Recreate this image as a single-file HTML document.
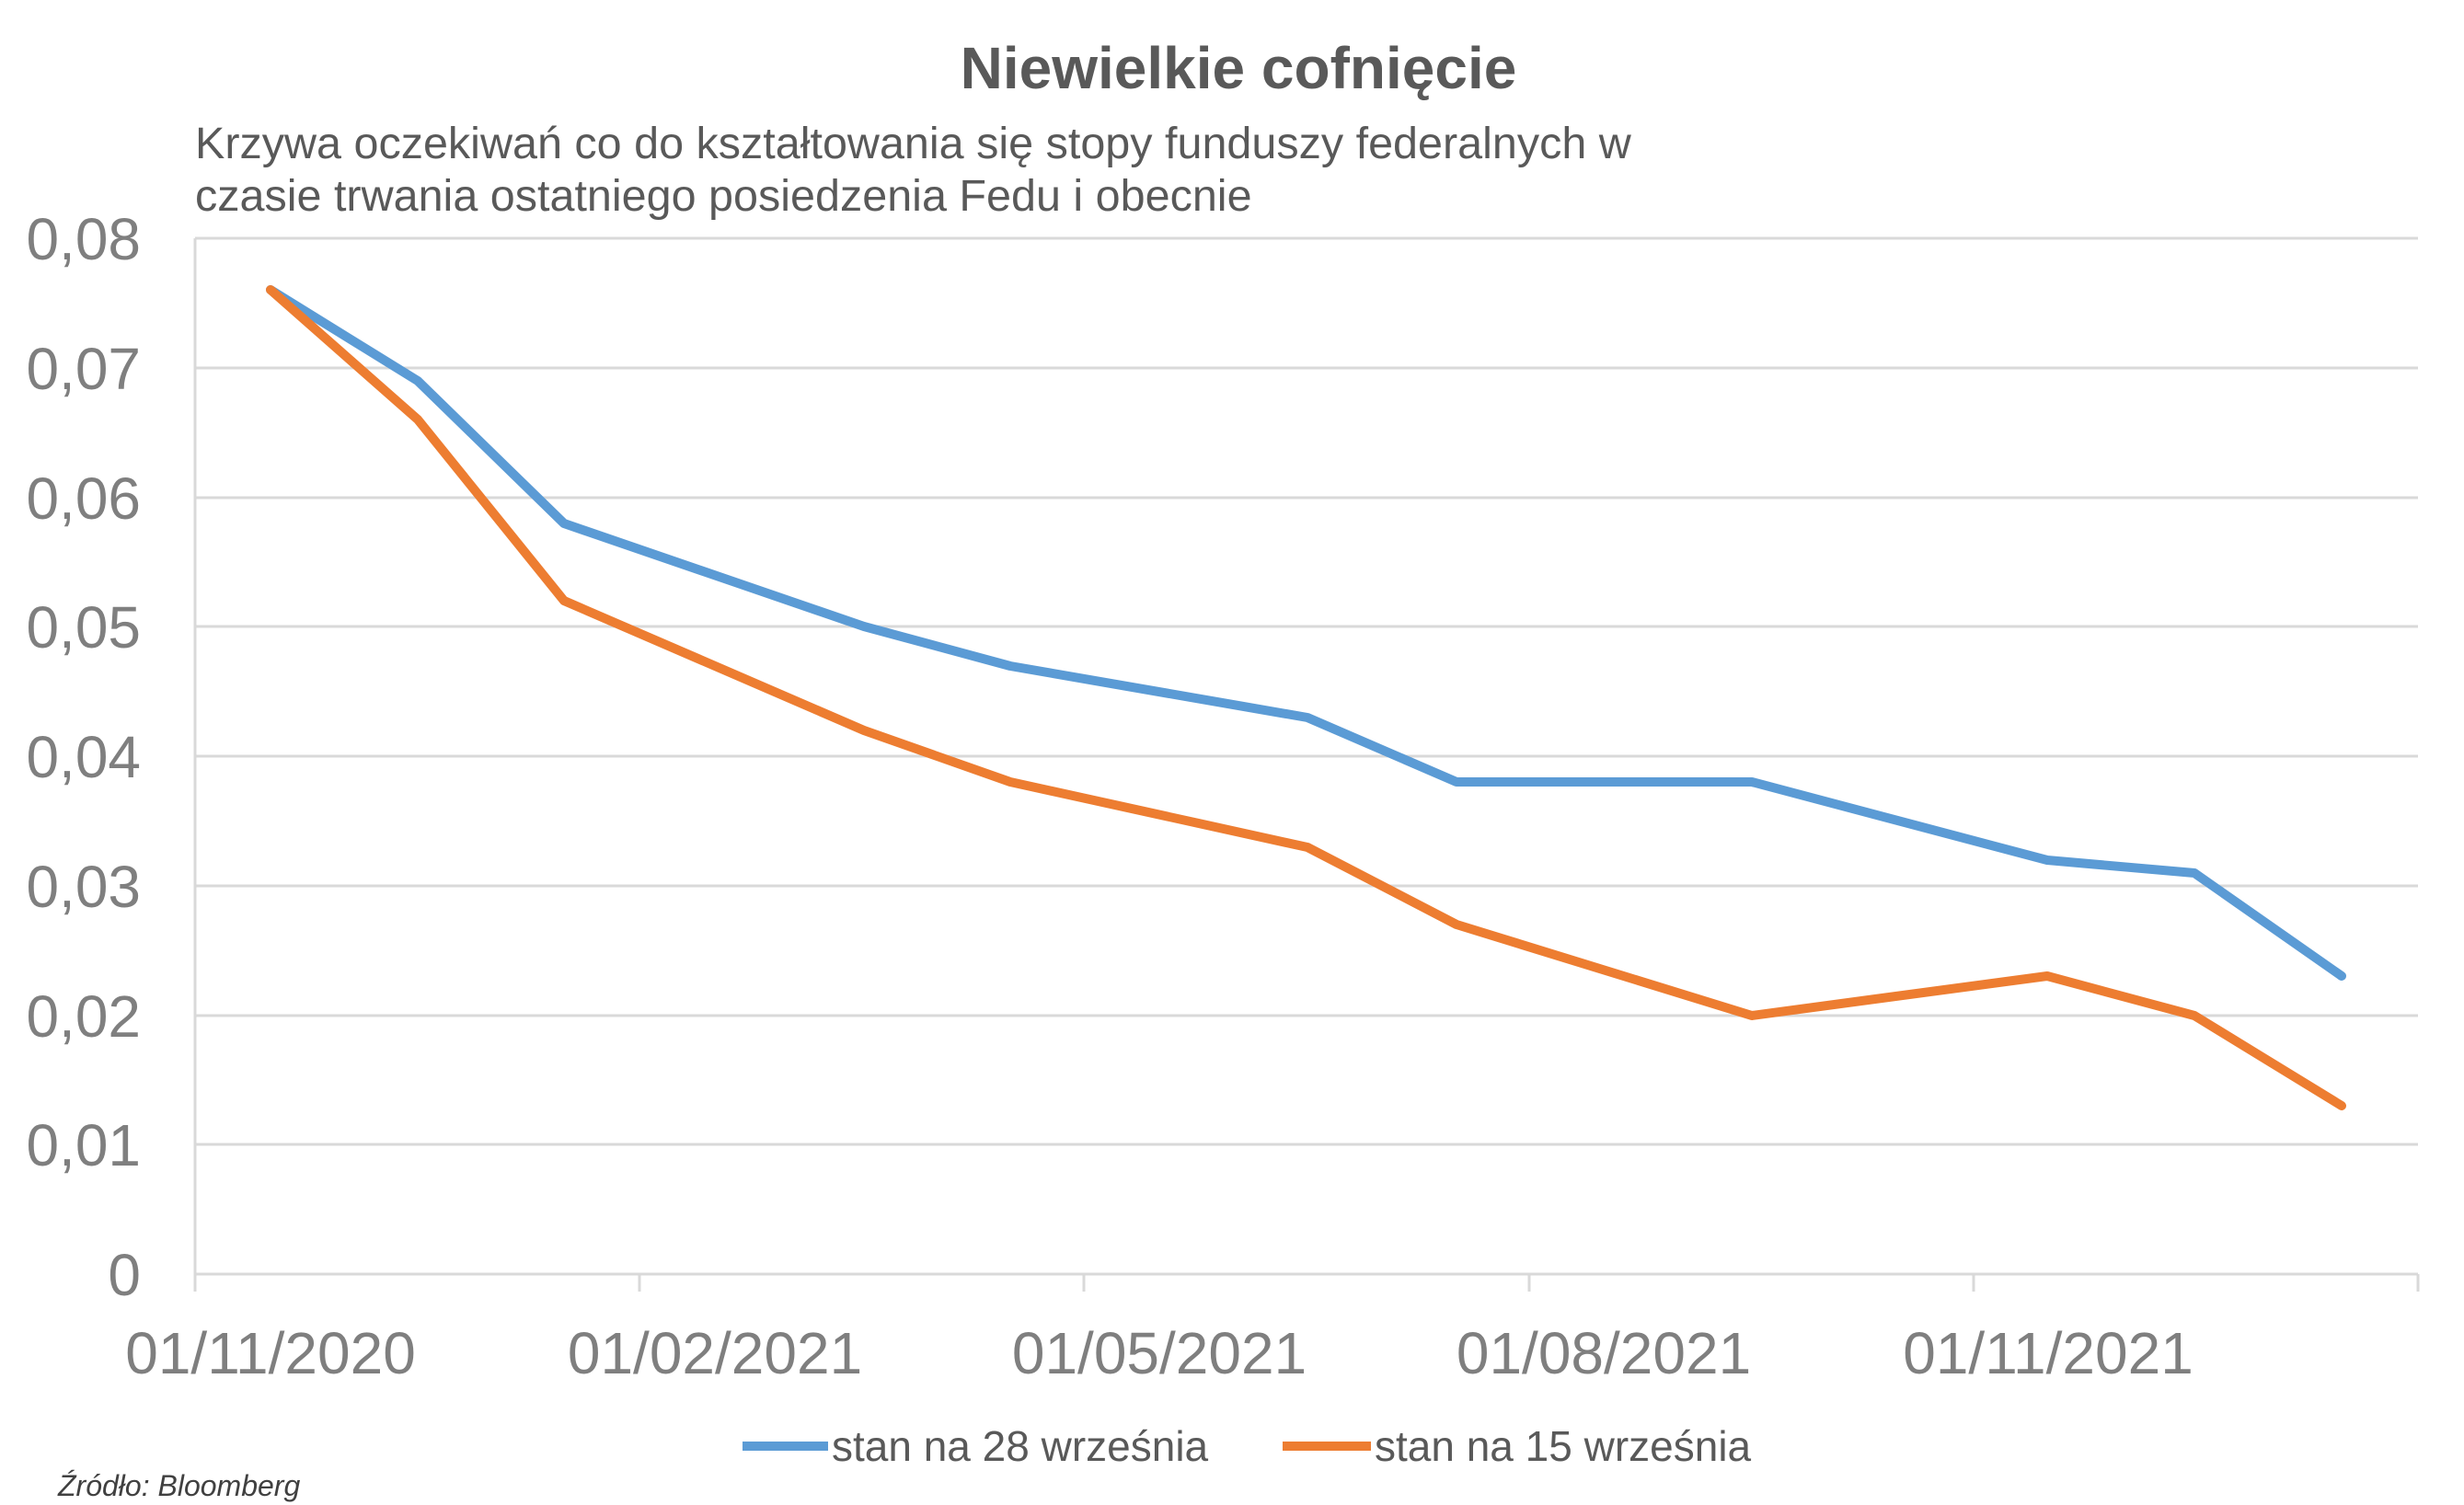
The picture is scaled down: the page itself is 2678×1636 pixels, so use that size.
<!DOCTYPE html>
<html><head><meta charset="utf-8"><style>html,body{margin:0;padding:0;background:#fff}svg{display:block}</style></head>
<body>
<svg width="2678" height="1636" viewBox="0 0 2678 1636" xmlns="http://www.w3.org/2000/svg" font-family="'Liberation Sans', sans-serif">
<rect width="2678" height="1636" fill="#fff"/>
<text x="1346" y="96" text-anchor="middle" font-size="64" font-weight="bold" fill="#595959">Niewielkie cofnięcie</text>
<text x="212" y="172" font-size="48.5" fill="#595959">Krzywa oczekiwań co do kształtowania się stopy funduszy federalnych w</text>
<text x="212" y="229" font-size="48.5" fill="#595959">czasie trwania ostatniego posiedzenia Fedu i obecnie</text>
<g stroke="#d9d9d9" stroke-width="3">
<line x1="212" y1="259" x2="2628" y2="259"/>
<line x1="212" y1="400" x2="2628" y2="400"/>
<line x1="212" y1="541" x2="2628" y2="541"/>
<line x1="212" y1="681" x2="2628" y2="681"/>
<line x1="212" y1="822" x2="2628" y2="822"/>
<line x1="212" y1="963" x2="2628" y2="963"/>
<line x1="212" y1="1104" x2="2628" y2="1104"/>
<line x1="212" y1="1244" x2="2628" y2="1244"/>
<line x1="212" y1="1385" x2="2628" y2="1385"/>
<line x1="212" y1="259" x2="212" y2="1404"/>
<line x1="695" y1="1385" x2="695" y2="1404"/>
<line x1="1178" y1="1385" x2="1178" y2="1404"/>
<line x1="1662" y1="1385" x2="1662" y2="1404"/>
<line x1="2145" y1="1385" x2="2145" y2="1404"/>
<line x1="2628" y1="1385" x2="2628" y2="1404"/>
</g>
<g font-size="64" fill="#7f7f7f" text-anchor="end">
<text x="153" y="282">0,08</text>
<text x="153" y="423">0,07</text>
<text x="153" y="564">0,06</text>
<text x="153" y="704">0,05</text>
<text x="153" y="845">0,04</text>
<text x="153" y="986">0,03</text>
<text x="153" y="1127">0,02</text>
<text x="153" y="1267">0,01</text>
<text x="153" y="1408">0</text>
</g>
<g font-size="64" fill="#7f7f7f" text-anchor="middle">
<text x="294" y="1493">01/11/2020</text>
<text x="777" y="1493">01/02/2021</text>
<text x="1260" y="1493">01/05/2021</text>
<text x="1743" y="1493">01/08/2021</text>
<text x="2226" y="1493">01/11/2021</text>
</g>
<polyline fill="none" stroke="#5b9bd5" stroke-width="10" stroke-linejoin="round" stroke-linecap="round"
points="294,315 454,414 613,569 939,681 1098,724 1421,780 1583,850 1904,850 2225,935 2385,949 2545,1061"/>
<polyline fill="none" stroke="#ed7d31" stroke-width="10" stroke-linejoin="round" stroke-linecap="round"
points="294,315 454,456 613,653 939,794 1098,850 1421,921 1583,1005 1904,1104 2225,1061 2385,1104 2545,1202"/>
<line x1="807" y1="1572" x2="900" y2="1572" stroke="#5b9bd5" stroke-width="10"/>
<text x="904" y="1588" font-size="46" fill="#595959">stan na 28 września</text>
<line x1="1394" y1="1572" x2="1490" y2="1572" stroke="#ed7d31" stroke-width="10"/>
<text x="1494" y="1588" font-size="46" fill="#595959">stan na 15 września</text>
<text x="63" y="1626" font-size="32" font-style="italic" fill="#404040">Źródło: Bloomberg</text>
</svg>
</body></html>
